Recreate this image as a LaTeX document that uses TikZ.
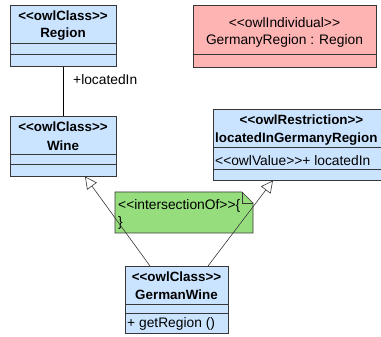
\documentclass[tikz,border=0pt]{standalone}
\usepackage{fontspec}
\setmainfont{Liberation Sans}[Ligatures=TeXOff]
\usetikzlibrary{arrows.meta}
\definecolor{umlblue}{RGB}{202,228,255}
\definecolor{umlpink}{RGB}{255,180,180}
\definecolor{umlgreen}{RGB}{150,222,125}
\definecolor{umlline}{RGB}{55,55,55}
\begin{document}
\begin{tikzpicture}[x=1pt,y=-1pt,
  box/.style={draw=umlline, line width=0.8pt, fill=umlblue, inner sep=0, anchor=north west},
  sep/.style={draw=umlline, line width=0.8pt},
  txt/.style={font=\fontsize{13.8}{15}\selectfont, inner sep=0},
  btxt/.style={font=\fontsize{13.4}{15}\selectfont\bfseries, inner sep=0},
  gen/.style={draw=umlline, line width=0.6pt, -{Triangle[open, fill=white, length=12pt, width=12pt]}},
  assoc/.style={draw=black, line width=0.7pt}
]
\useasboundingbox (0,0) rectangle (381,337);
\fill[white] (0,0) rectangle (381,337);
\clip (0,0) rectangle (381,337);

% Region
\node[box, minimum width=106pt, minimum height=61pt] (region) at (10,5) {};
\draw[sep] (region.west |- 0,43) -- (region.east |- 0,43);
\draw[sep] (region.west |- 0,54) -- (region.east |- 0,54);
\node[btxt] (regionS) at (63,16) {<<owlClass>>};
\node[btxt] (regionN) at (63,34) {Region};

% Wine
\node[box, minimum width=106pt, minimum height=60pt] (wine) at (10,116) {};
\draw[sep] (wine.west |- 0,154) -- (wine.east |- 0,154);
\draw[sep] (wine.west |- 0,164) -- (wine.east |- 0,164);
\node[btxt] (wineS) at (63,127) {<<owlClass>>};
\node[btxt] (wineN) at (63,146) {Wine};

% association
\draw[assoc] (region.south) -- (wine.north);
\node[txt, anchor=west] (assocL) at (73,80) {+locatedIn};

% GermanyRegion individual
\node[box, fill=umlpink, minimum width=183pt, minimum height=62pt] (germany) at (193,5) {};
\draw[sep] (germany.west |- 0,54) -- (germany.east |- 0,54);
\node[txt] (germanyS) at (284.5,23) {<<owlIndividual>>};
\node[txt] (germanyN) at (284.5,41) {GermanyRegion : Region};

% Restriction
\node[box, minimum width=177pt, minimum height=71pt] (restr) at (213,109) {};
\draw[sep] (restr.west |- 0,147) -- (restr.east |- 0,147);
\draw[sep] (restr.west |- 0,169) -- (restr.east |- 0,169);
\node[btxt] (restrS) at (301.5,120) {<<owlRestriction>>};
\node[btxt, anchor=west] (restrN) at (215,139) {locatedInGermanyRegion};
\node[txt, anchor=west] (restrA) at (215,161) {<<owlValue>>+ locatedIn};

% Note
\path[draw=umlline, line width=0.6pt, fill=umlgreen]
  (115,192) -- (242,192) -- (253,203) -- (253,233) -- (115,233) -- cycle;
\draw[umlline, line width=0.6pt] (242,192) -- (242,203) -- (253,203);
\node[txt, anchor=west] (noteA) at (118,206) {<<intersectionOf>>\{};
\node[txt, anchor=west] (noteB) at (118,223) {\}};

% GermanWine
\node[box, minimum width=103pt, minimum height=67pt] (gw) at (125,266) {};
\draw[sep] (gw.west |- 0,304) -- (gw.east |- 0,304);
\draw[sep] (gw.west |- 0,313) -- (gw.east |- 0,313);
\node[btxt] (gwS) at (176.5,277) {<<owlClass>>};
\node[btxt] (gwN) at (176.5,295) {GermanWine};
\node[txt, anchor=west] (gwA) at (127,324) {+ getRegion ()};

% generalizations
\coordinate (gwL) at (150,266);
\coordinate (gwR) at (208,266);
\coordinate (wineT) at (85,176.5);
\coordinate (restrT) at (273,180.5);
\draw[gen] (gwL) -- (wineT);
\draw[gen] (gwR) -- (restrT);
\end{tikzpicture}
\end{document}
